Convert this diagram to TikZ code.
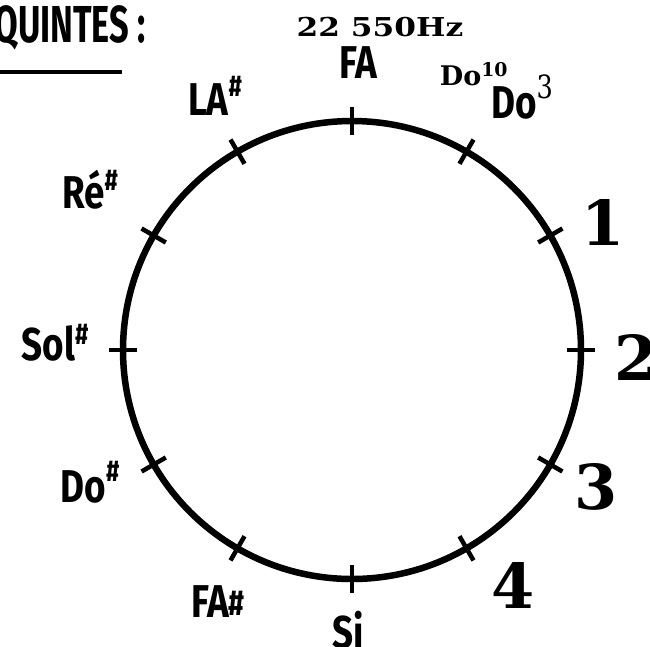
\documentclass[tikz,border=0pt]{standalone}
\usepackage{fontspec}
\setmainfont{DejaVu Serif}
\newfontfamily\hand{Fira Sans}
\usetikzlibrary{calc}
\newcommand\shp[2]{\raisebox{#1}{\fontsize{#2}{#2}\selectfont\#}}
\begin{document}
\begin{tikzpicture}[x=1pt,y=-1pt,
  hand/.style={font=\hand\bfseries\fontsize{46}{46}\selectfont, inner sep=0pt, xscale=0.8},
  title/.style={font=\hand\bfseries\fontsize{52}{52}\selectfont, inner sep=0pt, xscale=0.66},
  num/.style={font=\bfseries\fontsize{62}{62}\selectfont, inner sep=0pt},
  freq/.style={font=\bfseries\fontsize{26}{26}\selectfont, inner sep=0pt, xscale=1.2},
  small/.style={font=\bfseries\fontsize{27}{27}\selectfont, inner sep=0pt},
  ring/.style={line width=6.5pt},
  tick/.style={line width=4.5pt}]
\useasboundingbox (0,0) rectangle (650,646);
\clip (0,0) rectangle (650,646);
\coordinate (c) at (352,350);
\draw[ring] (c) circle[radius=229pt];
\foreach \a in {0,30,...,330}
  \draw[tick] ($(c)+(\a:215pt)$) -- ($(c)+(\a:243pt)$);
% title
\node[title] (t) at (70,28) {QUINTES :};
\draw[line width=4pt] (0,72) -- (122,72);
\node[freq] (f) at (380,27) {22 550Hz};
% handwritten labels
\node[hand] (fa) at (358,63) {FA};
\node[hand] (la) at (215,96) {LA\shp{0.4em}{30}};
\node[hand] (do3) at (522,97) {Do\raisebox{0.45em}{\mdseries\fontsize{32}{32}\selectfont\rmfamily 3}};
\node[small] (do10) at (474,74) {Do\textsuperscript{10}};
\node[hand] (re) at (90,190) {Ré\shp{0.4em}{30}};
\node[hand] (sol) at (55,343) {Sol\shp{0.35em}{30}};
\node[hand] (dod) at (90,482) {Do\shp{0.45em}{30}};
\node[hand] (fad) at (218,602) {FA\shp{0.05em}{36}};
\node[hand] (si) at (348,630) {Si};
% numbers
\node[num] (n1) at (603,222) {1};
\node[num] (n2) at (636,357) {2};
\node[num] (n3) at (596,487) {3};
\node[num] (n4) at (513,585) {4};
\end{tikzpicture}
\end{document}
